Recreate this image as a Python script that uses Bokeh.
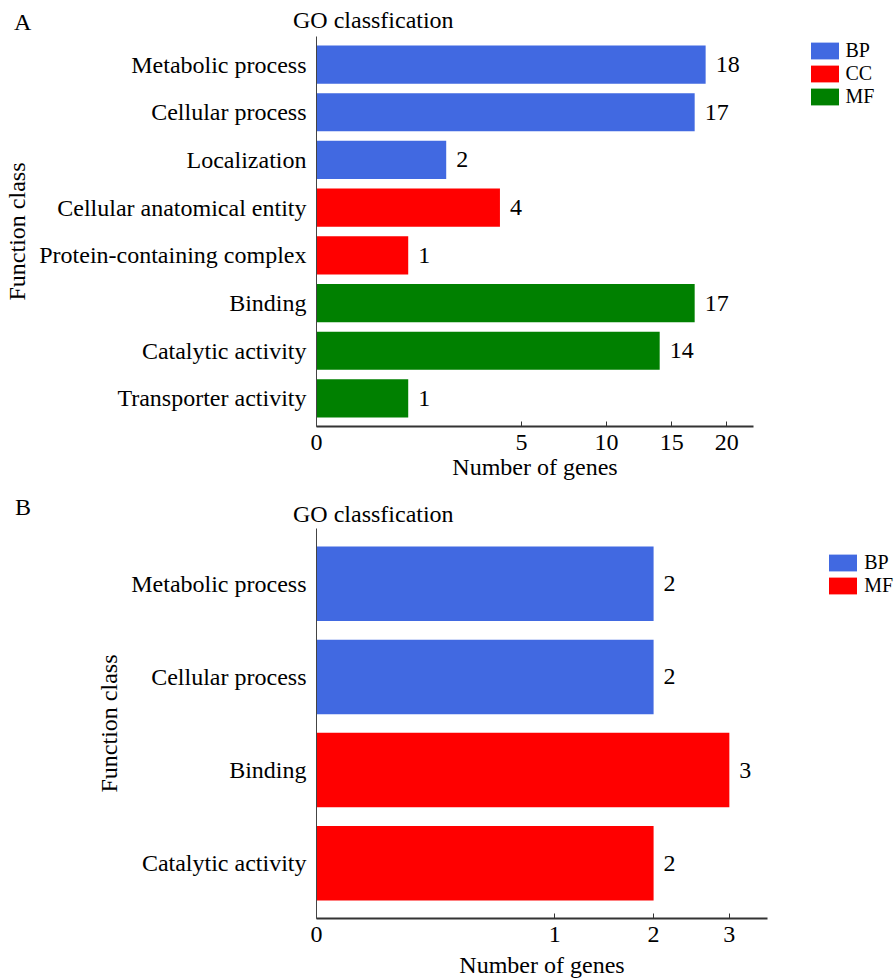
import numpy as np
from bokeh.plotting import figure
from bokeh.models import (ColumnDataSource, FactorRange, Range1d, FixedTicker,
                          CustomJSTickFormatter, CustomJSTransform, Legend, LegendItem, Div)
from bokeh.transform import transform
from bokeh.layouts import column
from bokeh.embed import file_html
from bokeh.resources import INLINE

FONT = "Liberation Serif"

# ---------------- data: panel A ----------------
a_categories = ["Metabolic process", "Cellular process", "Localization",
                "Cellular anatomical entity", "Protein-containing complex",
                "Binding", "Catalytic activity", "Transporter activity"]
a_counts = [18, 17, 2, 4, 1, 17, 14, 1]
a_groups = ["BP", "BP", "BP", "CC", "CC", "MF", "MF", "MF"]
a_legend = ["BP", "CC", "MF"]
a_colors = ["#4169E1", "#FF0000", "#008000"]
a_ticks = [0, 5, 10, 15, 20]
a_xmax = 22.7

# ---------------- data: panel B ----------------
b_categories = ["Metabolic process", "Cellular process", "Binding", "Catalytic activity"]
b_counts = [2, 2, 3, 2]
b_groups = ["BP", "BP", "MF", "MF"]
b_legend = ["BP", "MF"]
b_colors = ["#4169E1", "#FF0000"]
b_ticks = [0, 1, 2, 3]
b_xmax = 3.58

title_text = "GO classfication"
x_title = "Number of genes"
y_title = "Function class"

WIDTH = 880


def header(letter, height, letter_pos, title_pos):
    """Strip above a panel holding the panel letter and the heading."""
    def span(txt, pos):
        return ('<span style="position:absolute;left:%gpx;top:%gpx;white-space:nowrap;">%s</span>'
                % (pos[0], pos[1], txt))
    html = ('<div style="position:relative;width:%dpx;height:%dpx;margin:0;padding:0;'
            "font-family:'Liberation Serif';font-size:24px;line-height:1;color:#000;\">"
            % (WIDTH, height)) + span(letter, letter_pos) + span(title_text, title_pos) + '</div>'
    return Div(text=html, width=WIDTH, height=height, margin=(0, 0, 0, 0))


def panel(cats, counts, groups, legend_names, colors, ticks, xmax,
          frame_width, border_left, border_bottom, range_padding,
          xlab_standoff, leg_loc):
    sqrt_t = CustomJSTransform(func="return Math.sqrt(x)",
                               v_func="return xs.map((x) => Math.sqrt(x))")
    cmap = dict(zip(legend_names, colors))
    src = ColumnDataSource(dict(cat=cats, count=counts, group=groups,
                                color=[cmap[g] for g in groups],
                                label=[str(c) for c in counts]))
    yr = FactorRange(factors=list(reversed(cats)), range_padding=range_padding,
                     range_padding_units="absolute")
    p = figure(y_range=yr, x_range=Range1d(0, float(np.sqrt(xmax))),
               frame_width=frame_width, frame_height=390,
               min_border_left=border_left,
               min_border_right=WIDTH - border_left - frame_width,
               min_border_top=0, min_border_bottom=border_bottom,
               output_backend="svg", toolbar_location=None,
               background_fill_color="white", border_fill_color="white")
    p.outline_line_color = None
    p.xgrid.visible = False
    p.ygrid.visible = False

    r = p.hbar(y="cat", left=0, right=transform("count", sqrt_t), height=0.8,
               fill_color="color", line_color=None, source=src)
    p.text(x=transform("count", sqrt_t), y="cat", text="label", source=src,
           x_offset=10, text_baseline="middle", text_align="left",
           text_font=FONT, text_font_size="24px", text_color="black")

    # x axis (square-root scale)
    xa = p.xaxis[0]
    xa.ticker = FixedTicker(ticks=[float(np.sqrt(t)) for t in ticks])
    xa.formatter = CustomJSTickFormatter(code="return String(Math.round(tick*tick))")
    xa.major_tick_in = 5
    xa.major_tick_out = 0
    xa.minor_tick_line_color = None
    xa.major_tick_line_color = "#333333"
    xa.axis_line_color = "#333333"
    xa.axis_line_width = 2
    xa.major_label_standoff = 8
    xa.major_label_text_font = FONT
    xa.major_label_text_font_size = "24px"
    xa.major_label_text_color = "black"
    xa.axis_label = x_title
    xa.axis_label_standoff = xlab_standoff
    xa.axis_label_text_font = FONT
    xa.axis_label_text_font_size = "24px"
    xa.axis_label_text_font_style = "normal"
    xa.axis_label_text_color = "black"

    ya = p.yaxis[0]
    ya.major_tick_in = 0
    ya.major_tick_out = 0
    ya.minor_tick_line_color = None
    ya.axis_line_color = "#444444"
    ya.axis_line_width = 1
    ya.major_label_standoff = 10
    ya.major_label_text_font = FONT
    ya.major_label_text_font_size = "24px"
    ya.major_label_text_color = "black"
    ya.axis_label = y_title
    ya.axis_label_standoff = 6
    ya.axis_label_text_font = FONT
    ya.axis_label_text_font_size = "24px"
    ya.axis_label_text_font_style = "normal"
    ya.axis_label_text_color = "black"

    # group legend, right of the frame
    items = []
    for name in legend_names:
        idx = groups.index(name)
        items.append(LegendItem(label=name, renderers=[r], index=idx))
    leg = Legend(items=items, location=leg_loc, orientation="vertical",
                 glyph_width=35, glyph_height=21, label_standoff=4, spacing=0,
                 padding=0, margin=0, border_line_color=None,
                 background_fill_alpha=0, label_text_font=FONT,
                 label_text_font_size="20px", label_text_color="black")
    p.add_layout(leg, "right")
    return p


hA = header("A", 36, letter_pos=(14, 9.9), title_pos=(293, 8.4))
pA = panel(a_categories, a_counts, a_groups, a_legend, a_colors, a_ticks, a_xmax,
           frame_width=437, border_left=316, border_bottom=60,
           range_padding=0.088, xlab_standoff=1, leg_loc=(53.5, 318))
hB = header("B", 42, letter_pos=(15, 8.9), title_pos=(293, 15.9))
pB = panel(b_categories, b_counts, b_groups, b_legend, b_colors, b_ticks, b_xmax,
           frame_width=451, border_left=315, border_bottom=62,
           range_padding=0.0925, xlab_standoff=7, leg_loc=(58.2, 321))

layout = column(hA, pA, hB, pB, spacing=0)
open("out.html", "w").write(file_html(layout, INLINE))
